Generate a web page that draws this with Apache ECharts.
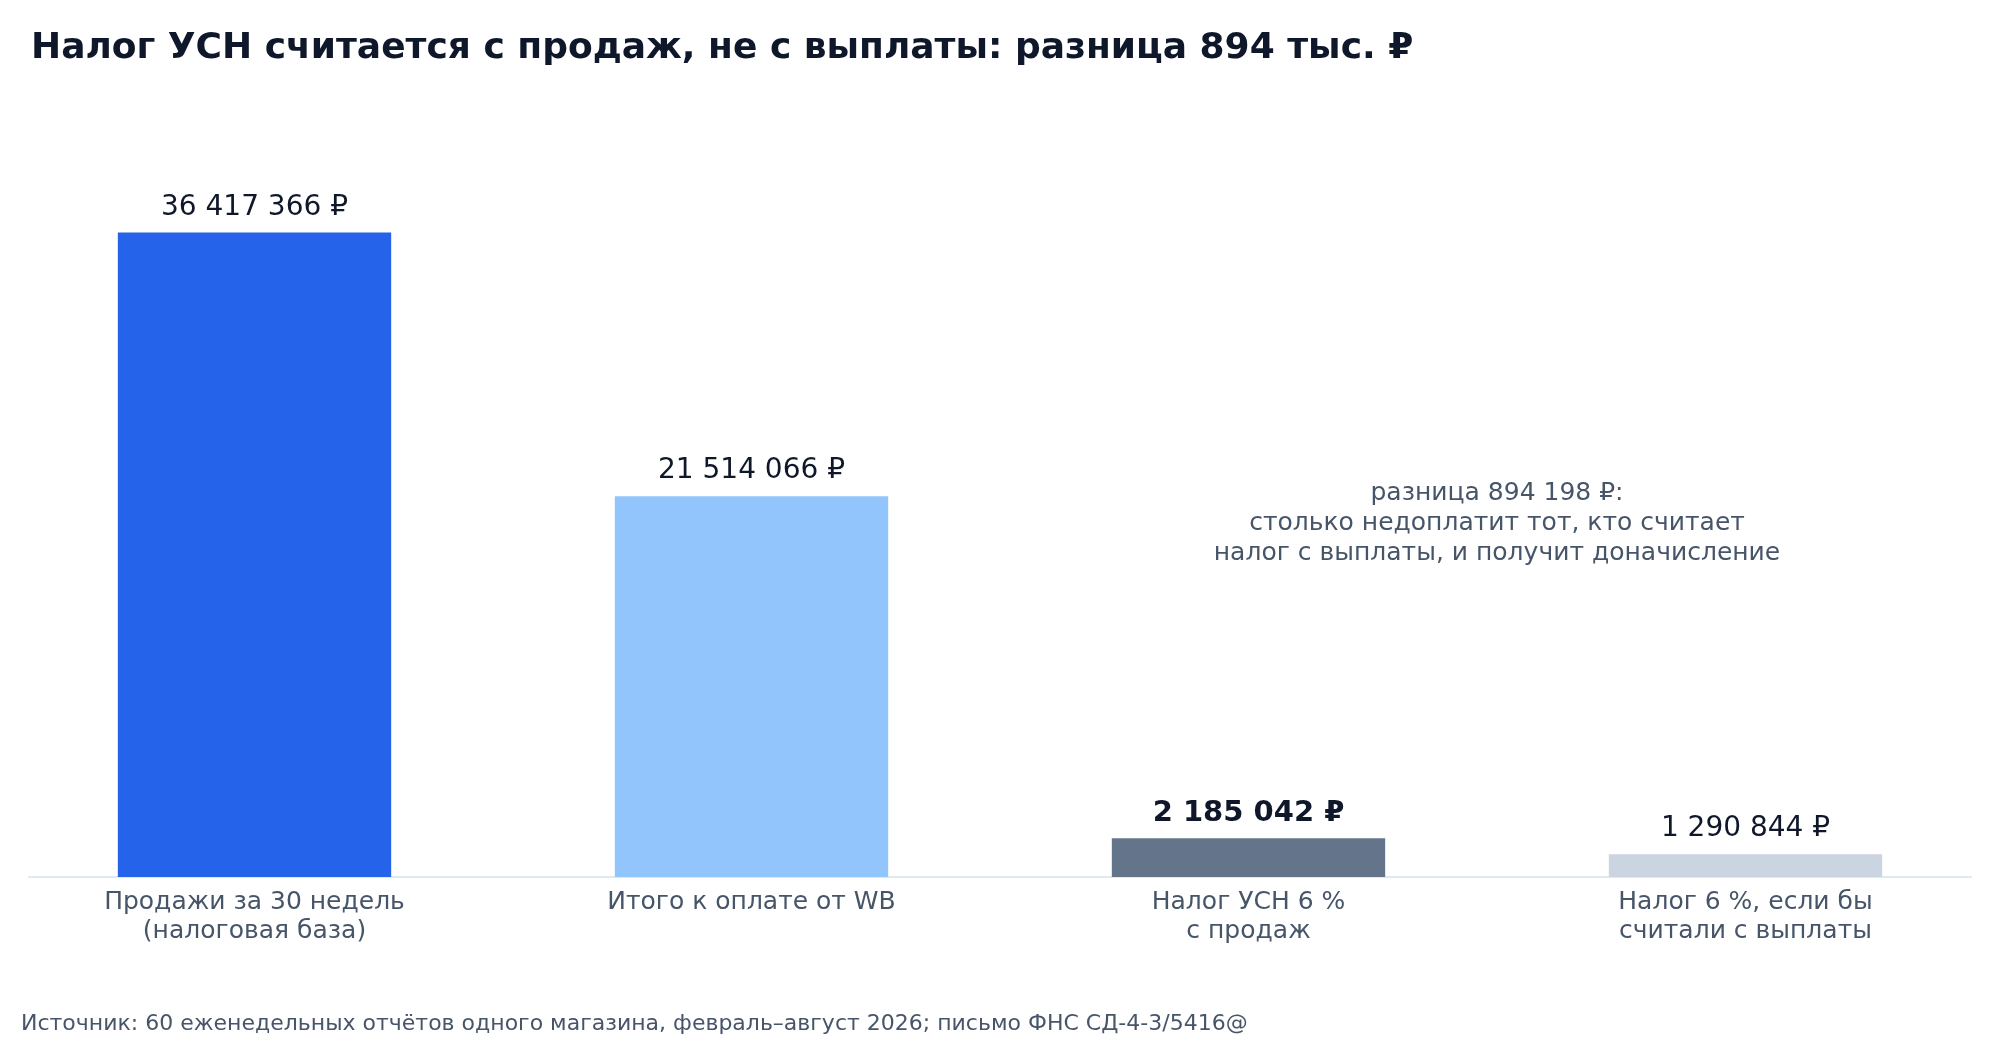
<!DOCTYPE html>
<html><head><meta charset="utf-8">
<script src="https://cdn.jsdelivr.net/npm/echarts@6/dist/echarts.min.js"></script>
<style>html,body{margin:0;padding:0;background:#fff}#c{width:2000px;height:1040px}</style>
</head><body><div id="c"></div>
<script>
const categories = ['Продажи за 30 недель\n(налоговая база)', 'Итого к оплате от WB', 'Налог УСН 6 %\nс продаж', 'Налог 6 %, если бы\nсчитали с выплаты'];
const values = [36417366, 21514066, 2185042, 1290844];
const barColors = ['#2563eb', '#93c5fd', '#64748b', '#cbd5e1'];
const boldIndex = 2;
const yMax = 40000000;
const titleText = 'Налог УСН считается с продаж, не с выплаты: разница 894 тыс. ₽';
const noteText = 'разница 894 198 ₽:\nстолько недоплатит тот, кто считает\nналог с выплаты, и получит доначисление';
const noteAnchor = { between: [2, 3], value: 20000000 };
const sourceText = 'Источник: 60 еженедельных отчётов одного магазина, февраль–август 2026; письмо ФНС СД-4-3/5416@';

const FONT = '"DejaVu Sans", sans-serif';
const fmt = v => String(v).replace(/\B(?=(\d{3})+(?!\d))/g, ' ') + ' ₽';

const chart = echarts.init(document.getElementById('c'), null, { renderer: 'canvas' });
const option = {
  backgroundColor: '#ffffff',
  animation: false,
  textStyle: { fontFamily: FONT },
  title: [
    { text: titleText, left: 26, top: 26, textStyle: { fontFamily: FONT, fontSize: 36, fontWeight: 'bold', color: '#0f172a' } },
    { text: sourceText, left: 16, top: 1008, textStyle: { fontFamily: FONT, fontSize: 22, fontWeight: 'normal', color: '#475569' } }
  ],
  grid: [
    { left: 6, right: 6, top: 169, bottom: 163 },
    { left: 29, right: 29, top: 169, bottom: 163 }
  ],
  xAxis: [
    {
      type: 'category', gridIndex: 0, data: categories,
      axisLine: { show: false }, axisTick: { show: false },
      axisLabel: { margin: 11, fontFamily: FONT, fontSize: 25, lineHeight: 29, color: '#475569', interval: 0 }
    },
    {
      type: 'value', gridIndex: 1, min: 0, max: 1,
      axisLine: { show: true, onZero: false, lineStyle: { color: '#e2e8f0', width: 2 } },
      axisTick: { show: false }, axisLabel: { show: false }, splitLine: { show: false }
    }
  ],
  yAxis: [
    { type: 'value', gridIndex: 0, min: 0, max: yMax, show: false, splitLine: { show: false } },
    { type: 'value', gridIndex: 1, min: 0, max: 1, show: false, splitLine: { show: false } }
  ],
  series: [{
    type: 'bar', xAxisIndex: 0, yAxisIndex: 0, barWidth: '55%',
    data: values.map((v, i) => ({
      value: v,
      itemStyle: { color: barColors[i] },
      label: {
        show: true, position: 'top', distance: 11,
        formatter: () => fmt(v),
        fontFamily: FONT, fontSize: i === boldIndex ? 29 : 28, lineHeight: 28, color: '#0f172a',
        fontWeight: i === boldIndex ? 'bold' : 'normal'
      }
    }))
  }]
};
chart.setOption(option);

const pa = chart.convertToPixel({ xAxisIndex: 0, yAxisIndex: 0 }, [noteAnchor.between[0], noteAnchor.value]);
const pb = chart.convertToPixel({ xAxisIndex: 0, yAxisIndex: 0 }, [noteAnchor.between[1], noteAnchor.value]);
chart.setOption({
  graphic: [{
    type: 'text', x: (pa[0] + pb[0]) / 2, y: pa[1],
    style: {
      text: noteText, align: 'center', verticalAlign: 'middle',
      font: '25px "DejaVu Sans", sans-serif', lineHeight: 30, fill: '#475569'
    }
  }]
});
</script></body></html>
